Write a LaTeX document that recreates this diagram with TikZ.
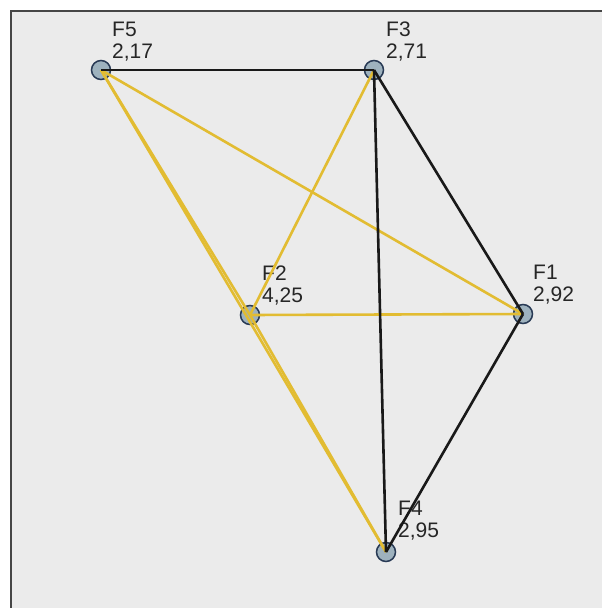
\documentclass[tikz,border=0pt]{standalone}
\usepackage{fontspec}
\setmainfont{Liberation Sans}
\definecolor{bggray}{RGB}{235,235,235}
\definecolor{framegray}{RGB}{70,70,70}
\definecolor{goldline}{RGB}{226,188,50}
\definecolor{darkline}{RGB}{25,25,25}
\definecolor{nodefill}{RGB}{158,178,190}
\definecolor{nodeedge}{RGB}{40,58,85}
\begin{document}
\begin{tikzpicture}[x=1pt,y=-1pt,
  vert/.style={circle,minimum size=19pt,inner sep=0pt,fill=nodefill,draw=nodeedge,line width=1.5pt},
  lbl/.style={anchor=base west,inner sep=0pt,align=left,font=\fontsize{21}{22}\selectfont,text=black!85},
  goldedge/.style={draw=goldline,line width=2.6pt},
  blackedge/.style={draw=darkline,line width=2.6pt}]
\useasboundingbox (0,0) rectangle (602,608);
\fill[white] (0,0) rectangle (602,608);
\fill[bggray] (11,11) rectangle (602,608);
\draw[framegray,line width=2.5pt] (11,608) -- (11,11) -- (602,11);
% nodes
\node[vert] (F5) at (101,70) {};
\node[vert] (F3) at (374,70) {};
\node[vert] (F2) at (250,315) {};
\node[vert] (F1) at (523,314) {};
\node[vert] (F4) at (386,552) {};
% labels
\node[lbl] (L5) at (112,58) {F5\\2,17};
\node[lbl] (L3) at (386,58) {F3\\2,71};
\node[lbl] (L2) at (262,302) {F2\\4,25};
\node[lbl] (L1) at (533,301) {F1\\2,92};
\node[lbl] (L4) at (398,537) {F4\\2,95};
% gold connectors
\draw[goldedge] (F5.center) -- (F1.center);
\draw[goldedge] (F5.center) -- (F4.center);
\draw[goldedge] (F5.center) -- (F2.center);
\draw[goldedge] (F3.center) -- (F2.center);
\draw[goldedge] (F2.center) -- (F1.center);
\draw[goldedge] (F2.center) -- (F4.center);
% black connectors
\draw[blackedge] (F5.center) -- (F3.center);
\draw[blackedge] (F3.center) -- (F1.center);
\draw[blackedge] (F3.center) -- (F4.center);
\draw[blackedge] (F1.center) -- (F4.center);
\end{tikzpicture}
\end{document}
